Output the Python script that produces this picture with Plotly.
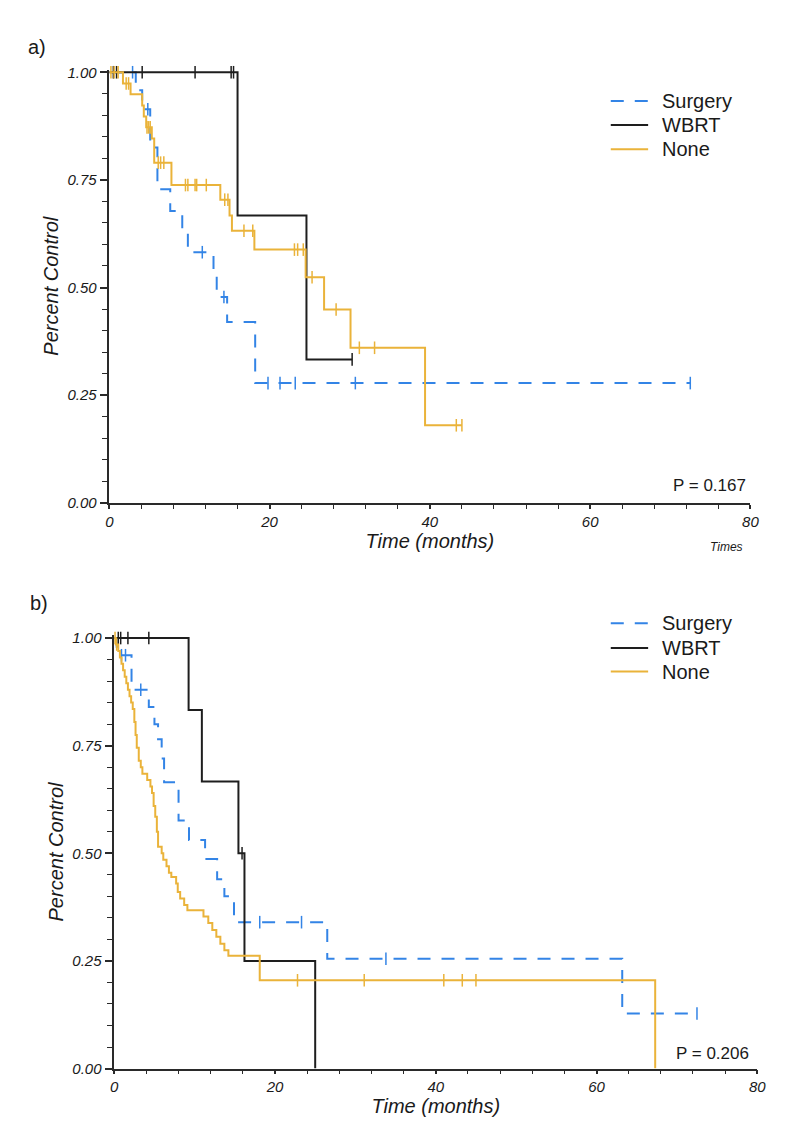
import plotly.graph_objects as go

# window is 790x1128; the page body adds an 8px margin, so the figure is 16px smaller
OFF = 8
W, H = 790 - 2 * OFF, 1128 - 2 * OFF

# ---- panel a) data: step times (months) and survival after each step ----
a_surg_t = [0, 3.3, 4.1, 5.1, 6.0, 7.6, 9.1, 9.8, 13.0, 13.4, 14.7, 18.2]
a_surg_s = [1.0, 0.958, 0.914, 0.825, 0.728, 0.678, 0.632, 0.582, 0.53, 0.478, 0.42, 0.278]
a_surg_end = 72.5
a_surg_cens = [2.9, 4.8, 11.6, 14.3, 19.8, 21.3, 23.2, 30.7, 72.5]

a_wbrt_t = [0, 16.0, 24.6]
a_wbrt_s = [1.0, 0.667, 0.333]
a_wbrt_end = 30.3
a_wbrt_cens = [0.5, 0.9, 4.1, 10.7, 15.2, 15.5, 30.3]

a_none_t = [0, 1.7, 2.65, 4.1, 4.3, 4.6, 5.3, 5.6, 7.75, 13.85, 15.0, 15.3, 18.1, 24.5, 26.8, 30.1, 39.4]
a_none_s = [1.0, 0.974, 0.949, 0.923, 0.897, 0.872, 0.846, 0.79, 0.738, 0.704, 0.667, 0.632, 0.588, 0.524,
            0.449, 0.36, 0.18]
a_none_end = 44.0
a_none_cens = [0.2, 0.6, 1.1, 2.1, 2.4, 4.7, 4.9, 5.1, 6.1, 6.4, 6.8, 9.5, 9.8, 10.7, 10.9, 12.1, 14.4, 14.8,
               16.8, 17.9, 23.1, 23.5, 24.2, 25.3, 28.3, 31.2, 33.1, 43.3, 44.0]

# ---- panel b) data ----
b_surg_t = [0, 0.3, 0.6, 2.15, 4.3, 5.0, 5.45, 5.9, 6.2, 8.0, 9.3, 11.3, 12.8, 13.7, 14.9, 26.5, 63.2]
b_surg_s = [1.0, 0.98, 0.96, 0.88, 0.84, 0.80, 0.765, 0.72, 0.665, 0.576, 0.531, 0.487, 0.44, 0.40, 0.34,
            0.255, 0.128]
b_surg_end = 72.5
b_surg_cens = [0.9, 1.4, 3.3, 18.1, 23.3, 33.8, 72.5]

b_wbrt_t = [0, 9.25, 10.9, 15.45, 16.2, 25.0]
b_wbrt_s = [1.0, 0.833, 0.667, 0.5, 0.25, 0.0]
b_wbrt_end = 25.0
b_wbrt_cens = [0.5, 0.8, 1.7, 4.3, 15.9]

b_none_t = [0, 0.2, 0.5, 0.7, 0.9, 1.1, 1.3, 1.5, 1.7, 1.9, 2.1, 2.3, 2.5, 2.65, 2.8, 3.05, 3.3, 3.5, 4.1, 4.5,
            4.7, 4.9, 5.1, 5.3, 5.45, 5.9, 6.1, 6.5, 6.8, 7.1, 7.7, 7.9, 8.2, 8.7, 9.1, 11.1, 11.7, 12.2, 12.7,
            13.2, 13.7, 14.2, 18.1, 67.3]
b_none_s = [1.0, 0.985, 0.97, 0.955, 0.94, 0.925, 0.91, 0.895, 0.88, 0.865, 0.85, 0.835, 0.805, 0.775, 0.745,
            0.715, 0.70, 0.685, 0.67, 0.655, 0.64, 0.61, 0.585, 0.55, 0.515, 0.5, 0.485, 0.47, 0.455, 0.445,
            0.43, 0.41, 0.395, 0.38, 0.368, 0.353, 0.338, 0.322, 0.306, 0.29, 0.275, 0.262, 0.205, 0.0]
b_none_end = 67.3
b_none_cens = [0.1, 0.3, 22.8, 31.1, 41.0, 43.3, 45.0]

groups = ["Surgery", "WBRT", "None"]
p_values = ["P = 0.167", "P = 0.206"]

BLUE = "#3384E6"
BLACK = "#1e1e1e"
GOLD = "#EAB33A"
TXT = "#1a1a1a"
FONT = "Liberation Sans, Arial, sans-serif"
DASH = "13px,11px"
styles = {"Surgery": dict(color=BLUE, dash=DASH),
          "WBRT": dict(color=BLACK, dash="solid"),
          "None": dict(color=GOLD, dash="solid")}


def step_at(ts, ss, t):
    val = ss[0]
    for ti, si in zip(ts, ss):
        if ti <= t:
            val = si
    return val


def px_x(p):
    return (p - OFF) / W


def px_y(p):
    return 1 - (p - OFF) / H


fig = go.Figure()

panels = [
    ("x", "y", [(a_surg_t, a_surg_s, a_surg_end, a_surg_cens),
                (a_wbrt_t, a_wbrt_s, a_wbrt_end, a_wbrt_cens),
                (a_none_t, a_none_s, a_none_end, a_none_cens)]),
    ("x2", "y2", [(b_surg_t, b_surg_s, b_surg_end, b_surg_cens),
                  (b_wbrt_t, b_wbrt_s, b_wbrt_end, b_wbrt_cens),
                  (b_none_t, b_none_s, b_none_end, b_none_cens)]),
]

for xa, ya, series in panels:
    for name, (ts, ss, end, cens) in zip(groups, series):
        st = styles[name]
        fig.add_trace(go.Scatter(x=ts + [end], y=ss + [ss[-1]], mode="lines", name=name,
                                 line=dict(color=st["color"], dash=st["dash"], width=2, shape="hv"),
                                 xaxis=xa, yaxis=ya, showlegend=False, hoverinfo="skip"))
        fig.add_trace(go.Scatter(x=cens, y=[step_at(ts, ss, c) for c in cens], mode="markers",
                                 marker=dict(symbol="line-ns-open", size=9, color=st["color"],
                                             line=dict(color=st["color"], width=1.5)),
                                 showlegend=False, cliponaxis=False, xaxis=xa, yaxis=ya,
                                 hoverinfo="skip"))

# pixel geometry of the two plot areas: (x at 0, x at 80, y at 0, y at 1)
geo = {"a": (107, 759, 503, 67), "b": (112, 766, 1076, 640)}
YTOP = 1.006


def axis_common():
    return dict(showline=True, linecolor="#2a2a2a", linewidth=1.5, ticks="outside", tickcolor="#2a2a2a",
                tickwidth=1.5, showgrid=False, zeroline=False, mirror=False,
                tickfont=dict(family=FONT, size=15, color=TXT, style="italic"))


layout_axes = {}
for key, xname, yname in [("a", "xaxis", "yaxis"), ("b", "xaxis2", "yaxis2")]:
    x0, x80, y0, y1 = geo[key]
    ytop_px = y0 - YTOP * (y0 - y1)
    xa = axis_common()
    xa.update(domain=[px_x(x0), px_x(x80)], range=[0, 80], tickvals=[0, 20, 40, 60, 80], ticklen=4,
              minor=dict(dtick=4, ticks="outside", ticklen=4, tickcolor="#2a2a2a", tickwidth=1.2),
              title=dict(text="Time (months)", standoff=4,
                         font=dict(family=FONT, size=20, color=TXT, style="italic")),
              anchor="y" if key == "a" else "y2")
    ya = axis_common()
    ya.update(domain=[px_y(y0), px_y(ytop_px)], range=[0, YTOP], tickvals=[0, 0.25, 0.5, 0.75, 1.0],
              ticktext=["0.00", "0.25", "0.50", "0.75", "1.00"], ticklen=8,
              minor=dict(dtick=0.05, ticks="outside", ticklen=6, tickcolor="#2a2a2a", tickwidth=1.2),
              title=dict(text="Percent Control", standoff=3,
                         font=dict(family=FONT, size=20, color=TXT, style="italic")),
              anchor="x" if key == "a" else "x2")
    layout_axes[xname] = xa
    layout_axes[yname] = ya


def note(text, x, y, size, anchor="left", italic=False):
    f = dict(family=FONT, size=size, color=TXT)
    if italic:
        f["style"] = "italic"
    return dict(text=text, x=px_x(x), y=px_y(y), xref="paper", yref="paper", showarrow=False,
                xanchor=anchor, yanchor="middle", font=f, borderpad=0)


annotations = [
    note("a)", 23, 41, 20),
    note("b)", 25, 605, 20),
    note(p_values[0], 756, 486, 17, "right"),
    note(p_values[1], 759, 1061, 17, "right"),
    note("Times", 753, 548, 12, "right", italic=True),
]

# legend drawn as line samples + labels in each panel
shapes = []
legend_rows = {"a": [96, 120.5, 145], "b": [625, 650, 674]}
for key in ["a", "b"]:
    for name, ry in zip(groups, legend_rows[key]):
        st = styles[name]
        shapes.append(dict(type="line", xref="paper", yref="paper", x0=px_x(617), x1=px_x(655),
                           y0=px_y(ry), y1=px_y(ry),
                           line=dict(color=st["color"], width=2, dash=st["dash"])))
        annotations.append(note(name, 668, ry, 20))

fig.update_layout(
    width=W, height=H, margin=dict(l=0, r=0, t=0, b=0), plot_bgcolor="white", paper_bgcolor="white",
    font=dict(family=FONT, color=TXT), showlegend=False,
    annotations=annotations, shapes=shapes,
    **layout_axes,
)

fig.write_html("out.html")
